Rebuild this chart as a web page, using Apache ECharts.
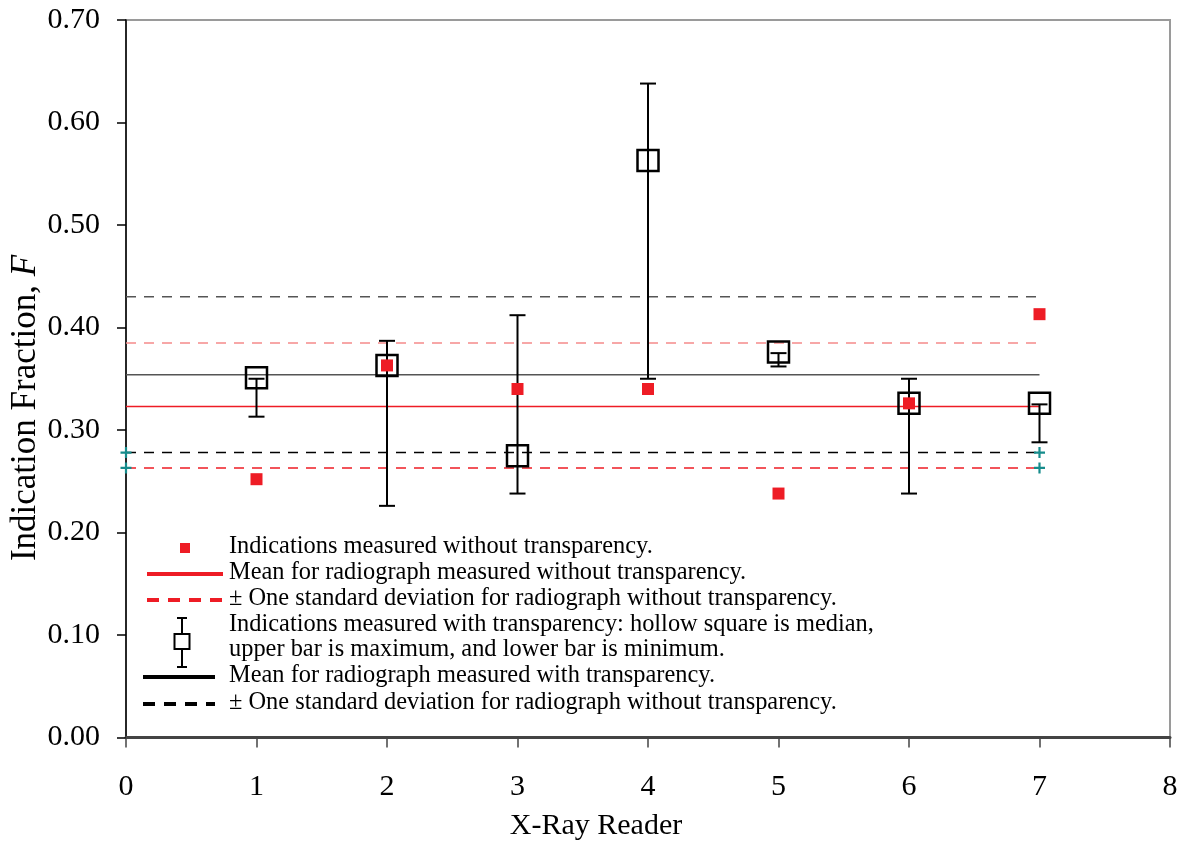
<!DOCTYPE html>
<html>
<head>
<meta charset="utf-8">
<script src="https://cdn.jsdelivr.net/npm/echarts@6/dist/echarts.min.js"></script>
<style>
html,body{margin:0;padding:0;background:#fff;}
#chart{width:1180px;height:846px;}
</style>
</head>
<body>
<div id="chart"></div>
<script>
// ---- data ----
var readers = [1, 2, 3, 4, 5, 6, 7];
var noTransparency = [0.252, 0.363, 0.340, 0.340, 0.238, 0.326, 0.413];
var medianWith = [0.351, 0.363, 0.275, 0.563, 0.376, 0.326, 0.326];
var maxWith = [0.350, 0.387, 0.412, 0.638, 0.375, 0.350, 0.325];
var minWith = [0.313, 0.226, 0.238, 0.350, 0.362, 0.238, 0.288];
var lineX = [0, 7];
var meanNo = 0.323, sdNoUpper = 0.385, sdNoLower = 0.263;
var meanWith = 0.354, sdWithUpper = 0.430, sdWithLower = 0.278;
var xTicks = [0, 1, 2, 3, 4, 5, 6, 7, 8];
var yTicks = [0, 0.1, 0.2, 0.3, 0.4, 0.5, 0.6, 0.7];
var xTitle = 'X-Ray Reader';
var yTitle = ['Indication Fraction, ', 'F'];
var legendTexts = [
  'Indications measured without transparency.',
  'Mean for radiograph measured without transparency.',
  '\u00B1 One standard deviation for radiograph without transparency.',
  'Indications measured with transparency: hollow square is median,',
  'upper bar is maximum, and lower bar is minimum.',
  'Mean for radiograph measured with transparency.',
  '\u00B1 One standard deviation for radiograph without transparency.'
];

var FONT = 'Liberation Serif';
var RED = '#ee1c25';
var TEAL = '#168c8c';
var CROSS = 'path://M4,0h2v4h4v2h-4v4h-2v-4h-4v-2h4z';

function hline(v) { return lineX.map(function (x) { return [x, v]; }); }

var chart = echarts.init(document.getElementById('chart'), null, {renderer: 'canvas'});

function lineSeries(v, color, width, type, withMarkers, z) {
  return {
    type: 'line', data: hline(v), z: z || 1, silent: true,
    symbol: withMarkers ? CROSS : 'none', symbolSize: 11, showSymbol: withMarkers,
    itemStyle: {color: TEAL, opacity: 1},
    lineStyle: {color: color, width: width, type: type, dashOffset: 0},
    emphasis: {disabled: true}
  };
}

// legend + y title (graphic)
var lx = 229, ly = [548, 574, 600, 626, 651, 677, 704];
var g = [];
legendTexts.forEach(function (t, i) {
  g.push({type: 'text', left: lx, top: ly[i] - 13, style: {text: t, font: '24.4px "' + FONT + '"', fill: '#000'}});
});
g.push({type: 'rect', shape: {x: 180, y: ly[0] - 5, width: 10, height: 10}, style: {fill: RED}});
g.push({type: 'line', shape: {x1: 147, y1: ly[1], x2: 223, y2: ly[1]}, style: {stroke: RED, lineWidth: 4}});
g.push({type: 'line', shape: {x1: 147, y1: ly[2], x2: 223, y2: ly[2]}, style: {stroke: RED, lineWidth: 4, lineDash: [12, 9]}});
g.push({type: 'line', shape: {x1: 182, y1: 618, x2: 182, y2: 667}, style: {stroke: '#000', lineWidth: 2}});
g.push({type: 'line', shape: {x1: 177, y1: 618, x2: 187, y2: 618}, style: {stroke: '#000', lineWidth: 2}});
g.push({type: 'line', shape: {x1: 177, y1: 667, x2: 187, y2: 667}, style: {stroke: '#000', lineWidth: 2}});
g.push({type: 'rect', shape: {x: 174.5, y: 634, width: 15, height: 15}, style: {fill: '#fff', stroke: '#000', lineWidth: 2}});
g.push({type: 'line', shape: {x1: 143, y1: ly[5], x2: 215, y2: ly[5]}, style: {stroke: '#000', lineWidth: 4}});
g.push({type: 'line', shape: {x1: 143, y1: ly[6], x2: 215, y2: ly[6]}, style: {stroke: '#000', lineWidth: 4, lineDash: [12, 9]}});
g.push({
  type: 'text', x: 26, y: 408, rotation: Math.PI / 2,
  style: {
    text: '{a|' + yTitle[0] + '}{b|' + yTitle[1] + '}',
    align: 'center', verticalAlign: 'middle',
    rich: {
      a: {font: '35px "' + FONT + '"', fill: '#000'},
      b: {font: 'italic 35px "' + FONT + '"', fill: '#000'}
    }
  }
});

var option = {
  animation: false,
  backgroundColor: '#fff',
  grid: {left: 126, top: 20, right: 10, bottom: 108.5, show: true, borderColor: '#9a9a9a', borderWidth: 2,
    containLabel: false, outerBoundsMode: 'none'},
  xAxis: {
    type: 'value', min: xTicks[0], max: xTicks[xTicks.length - 1], interval: 1,
    name: xTitle, nameLocation: 'middle', nameGap: 74,
    nameTextStyle: {fontFamily: FONT, fontSize: 30, color: '#000', padding: [0, 104, 0, 0]},
    splitLine: {show: false},
    axisLine: {onZero: false, lineStyle: {color: '#444', width: 3}},
    axisTick: {show: true, length: 10, lineStyle: {color: '#444', width: 1.5}},
    axisLabel: {fontFamily: FONT, fontSize: 30, color: '#000', margin: 35}
  },
  yAxis: {
    type: 'value', min: yTicks[0], max: yTicks[yTicks.length - 1], interval: 0.1,
    splitLine: {show: false},
    axisLine: {show: true, lineStyle: {color: '#000', width: 1.5}},
    axisTick: {show: true, length: 9, lineStyle: {color: '#000', width: 1.5}},
    axisLabel: {fontFamily: FONT, fontSize: 30, color: '#000', margin: 26,
      formatter: function (v) { return v.toFixed(2); }}
  },
  graphic: g,
  series: [
    lineSeries(sdWithUpper, '#555', 1.5, [10, 8], false, 1),
    lineSeries(sdNoUpper, '#f58a8a', 1.5, [10, 8], false, 1),
    lineSeries(meanWith, '#555', 1.5, 'solid', false, 1),
    lineSeries(meanNo, RED, 1.5, 'solid', false, 1),
    lineSeries(sdWithLower, '#000', 1.5, [10, 8], true, 1),
    lineSeries(sdNoLower, RED, 1.5, [10, 8], true, 1),
    {
      type: 'custom', z: 2, silent: true,
      data: readers.map(function (r, i) { return [r, maxWith[i], minWith[i]]; }),
      encode: {x: 0, y: [1, 2]},
      renderItem: function (params, api) {
        var x = api.value(0);
        var pHi = api.coord([x, api.value(1)]);
        var pLo = api.coord([x, api.value(2)]);
        var hw = 8;
        var st = {stroke: '#000', lineWidth: 2};
        return {type: 'group', children: [
          {type: 'line', shape: {x1: pHi[0], y1: pHi[1], x2: pLo[0], y2: pLo[1]}, style: st},
          {type: 'line', shape: {x1: pHi[0] - hw, y1: pHi[1], x2: pHi[0] + hw, y2: pHi[1]}, style: st},
          {type: 'line', shape: {x1: pLo[0] - hw, y1: pLo[1], x2: pLo[0] + hw, y2: pLo[1]}, style: st}
        ]};
      }
    },
    {
      type: 'scatter', z: 3, silent: true, symbol: 'rect', symbolSize: 21,
      data: readers.map(function (r, i) { return [r, medianWith[i]]; }),
      itemStyle: {color: 'rgba(0,0,0,0)', borderColor: '#000', borderWidth: 2.5, opacity: 1}
    },
    {
      type: 'scatter', z: 4, silent: true, symbol: 'rect', symbolSize: 12,
      data: readers.map(function (r, i) { return [r, noTransparency[i]]; }),
      itemStyle: {color: RED, opacity: 1}
    }
  ]
};
chart.setOption(option);
</script>
</body>
</html>
